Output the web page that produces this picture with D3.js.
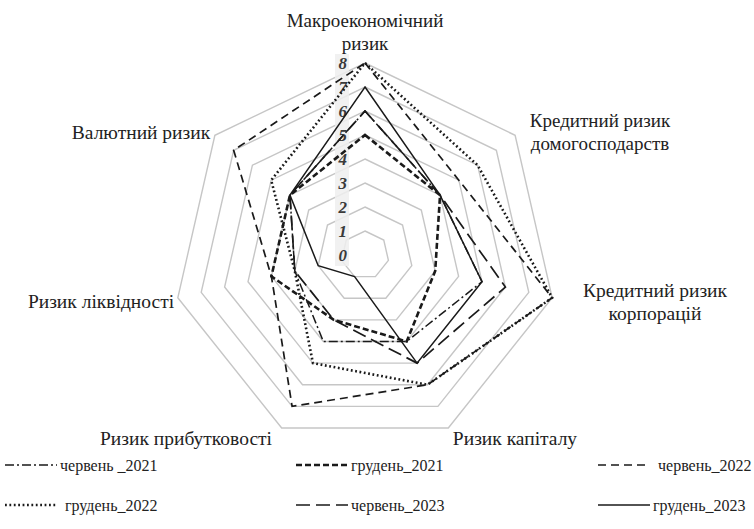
<!DOCTYPE html>
<html>
<head>
<meta charset="utf-8">
<script src="https://cdn.jsdelivr.net/npm/d3@7"></script>
<style>
  body { margin: 0; background: #fff; }
  svg text { font-family: "Liberation Serif", "DejaVu Serif", "Times New Roman", serif; fill: #222; }
</style>
</head>
<body>
<div id="chart"></div>
<script>
var svgWidth = 754;
var svgHeight = 529;
var serif = "'Liberation Serif', 'DejaVu Serif', serif";

// axes, clockwise from the top
var axes = ["Макроекономічний ризик", "Кредитний ризик домогосподарств", "Кредитний ризик корпорацій",
  "Ризик капіталу", "Ризик прибутковості", "Ризик ліквідності", "Валютний ризик"];

var seriesNames = ["червень _2021", "грудень_2021", "червень_2022", "грудень_2022", "червень_2023", "грудень_2023"];

var jun2021 = [6, 4, 5, 4, 4, 3, 4];
var dec2021 = [5, 4, 3, 4, 3, 4, 4];
var jun2022 = [8, 5, 8, 6, 7, 4, 7];
var dec2022 = [8, 6, 8, 6, 5, 3, 5];
var jun2023 = [6, 4, 6, 5, 3, 3, 4];
var dec2023 = [7, 4, 5, 5, 1, 2, 4];

var tickValues = [0, 1, 2, 3, 4, 5, 6, 7, 8];

var seriesData = [jun2021, dec2021, jun2022, dec2022, jun2023, dec2023];

// line styles for each series
var styles = [
  { dash: "9,3,2,3", width: 1.5 },
  { dash: "6,3", width: 2.6 },
  { dash: "8,5", width: 1.7 },
  { dash: "1.8,2.6", width: 2.6 },
  { dash: "14,6", width: 1.7 },
  { dash: null, width: 1.5 }
];

var cx = 365, cy = 255;

var svg = d3.select("#chart")
  .append("svg")
  .attr("width", svgWidth)
  .attr("height", svgHeight);

var rScale = d3.scaleLinear().domain([0, 8]).range([0, 192]);
var angle = d3.scaleLinear().domain([0, axes.length]).range([0, 2 * Math.PI]);

var chartGroup = svg.append("g")
  .attr("transform", `translate(${cx}, ${cy})`);

var radial = d3.lineRadial()
  .angle((d, i) => angle(i))
  .radius(d => rScale(d))
  .curve(d3.curveLinearClosed);

// grid heptagons
chartGroup.selectAll(".grid")
  .data(tickValues.slice(1))
  .enter()
  .append("path")
  .attr("d", v => radial(axes.map(() => v)))
  .attr("fill", "none")
  .attr("stroke", "#c6c6c6")
  .attr("stroke-width", 1.4);

// light band behind tick labels
chartGroup.append("rect")
  .attr("x", -30)
  .attr("y", -rScale(8) - 9)
  .attr("width", 14)
  .attr("height", rScale(8) + 20)
  .attr("fill", "#efefef")
  .attr("opacity", 0.85);

chartGroup.selectAll(".tick-label")
  .data(tickValues)
  .enter()
  .append("text")
  .attr("x", -18)
  .attr("y", d => -rScale(d))
  .attr("dy", "0.36em")
  .attr("text-anchor", "end")
  .style("font-family", serif)
  .style("font-size", "17px")
  .style("font-style", "italic")
  .style("font-weight", "bold")
  .style("fill", "#3a3a3a")
  .text(d => d);

// series
chartGroup.selectAll(".series")
  .data(seriesData)
  .enter()
  .append("path")
  .attr("d", d => radial(d))
  .attr("fill", "none")
  .attr("stroke", "#1a1a1a")
  .attr("stroke-width", (d, i) => styles[i].width)
  .attr("stroke-dasharray", (d, i) => styles[i].dash)
  .attr("stroke-linejoin", "miter");

// axis labels
var labelPos = [
  { x: 365, y: 20, size: 19, lines: ["Макроекономічний", "ризик"] },
  { x: 600, y: 120, size: 19, lines: ["Кредитний ризик", "домогосподарств"] },
  { x: 655, y: 290, size: 19.5, lines: ["Кредитний ризик", "корпорацій"] },
  { x: 515, y: 438, size: 19.5, lines: ["Ризик капіталу"] },
  { x: 186, y: 438, size: 19.5, lines: ["Ризик прибутковості"] },
  { x: 101, y: 301, size: 19.5, lines: ["Ризик ліквідності"] },
  { x: 141, y: 132, size: 19.5, lines: ["Валютний ризик"] }
];

labelPos.forEach(function (p) {
  var t = svg.append("text")
    .attr("text-anchor", "middle")
    .style("font-family", serif)
    .style("font-size", p.size + "px");
  p.lines.forEach(function (line, j) {
    t.append("tspan")
      .attr("x", p.x)
      .attr("y", p.y + j * 23)
      .attr("dy", "0.35em")
      .text(line);
  });
});

// legend
var legendX = [5, 296, 598];
var legendY = [465, 505];

var legend = svg.selectAll(".legend")
  .data(seriesNames)
  .enter()
  .append("g")
  .attr("transform", (d, i) => `translate(${legendX[i % 3]}, ${legendY[Math.floor(i / 3)]})`);

legend.append("line")
  .attr("x1", 0)
  .attr("x2", 52)
  .attr("y1", 0)
  .attr("y2", 0)
  .attr("stroke", "#1a1a1a")
  .attr("stroke-width", (d, i) => styles[i].width)
  .attr("stroke-dasharray", (d, i) => styles[i].dash);

legend.append("text")
  .attr("x", (d, i) => i === 3 || i === 2 ? 60 : 55)
  .attr("y", 0)
  .attr("dy", "0.35em")
  .style("font-family", serif)
  .style("font-size", "16px")
  .text(d => d);
</script>
</body>
</html>
